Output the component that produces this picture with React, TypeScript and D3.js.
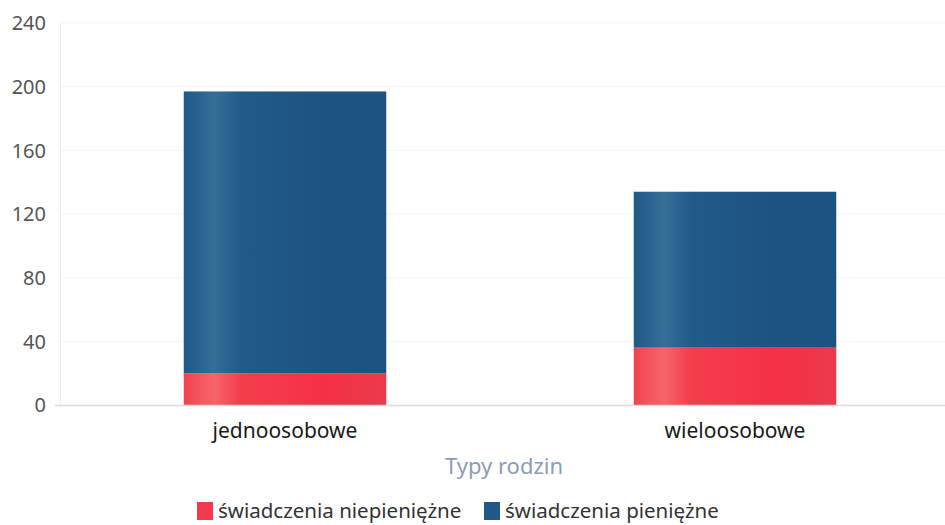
import * as d3 from 'd3';

const categories = ['jednoosobowe', 'wieloosobowe'];
const seriesNames = ['świadczenia niepieniężne', 'świadczenia pieniężne'];
const niepieniezne = [20, 36];
const pieniezne = [177, 98];
const yTicks = [0, 40, 80, 120, 160, 200, 240];

const colors = ['#f23a4c', '#1f5a86'];

const W = 945;
const H = 525;
const FONT = '"Noto Sans", "Open Sans", sans-serif';

export default function App() {
  const x = d3
    .scaleBand<string>()
    .domain(categories)
    .range([60, 960])
    .paddingInner(0.55)
    .paddingOuter(0.275);
  const y = d3.scaleLinear().domain([0, 240]).range([405, 23]);

  const table = categories.map((c, i) => ({
    cat: c,
    niepieniezne: niepieniezne[i],
    pieniezne: pieniezne[i],
  }));
  const stacked = d3.stack<any>().keys(['niepieniezne', 'pieniezne'])(table);

  return (
    <svg
      width={W}
      height={H}
      style={{ position: 'absolute', left: 0, top: 0, background: '#fff' }}
      fontFamily={FONT}
    >
      <defs>
        <linearGradient id="g0" x1="0" x2="1" y1="0" y2="0">
          <stop offset="0" stopColor="#f0444f" />
          <stop offset="0.1" stopColor="#f45a62" />
          <stop offset="0.15" stopColor="#f56568" />
          <stop offset="0.28" stopColor="#f33e4c" />
          <stop offset="0.7" stopColor="#f53046" />
          <stop offset="1" stopColor="#ea3a4b" />
        </linearGradient>
        <linearGradient id="g1" x1="0" x2="1" y1="0" y2="0">
          <stop offset="0" stopColor="#1f5a86" />
          <stop offset="0.1" stopColor="#2b6892" />
          <stop offset="0.15" stopColor="#356f98" />
          <stop offset="0.28" stopColor="#205c88" />
          <stop offset="0.7" stopColor="#1c5381" />
          <stop offset="1" stopColor="#1d5380" />
        </linearGradient>
      </defs>

      {yTicks.map((t) => (
        <g key={t}>
          {t > 0 && (
            <line x1={60} x2={945} y1={y(t)} y2={y(t)} stroke="#f5f5f5" strokeWidth={1} />
          )}
          <text
            x={46}
            y={y(t)}
            dy="0.36em"
            textAnchor="end"
            fontSize={20}
            fill="#555"
          >
            {t}
          </text>
        </g>
      ))}
      <line x1={60.5} x2={60.5} y1={y(240)} y2={405} stroke="#eeeeee" strokeWidth={1} />

      {stacked.map((s, si) =>
        s.map((d, i) => (
          <rect
            key={si + '-' + i}
            x={x(categories[i])}
            width={x.bandwidth()}
            y={y(d[1])}
            height={y(d[0]) - y(d[1])}
            fill={`url(#g${si})`}
          />
        ))
      )}

      <line x1={55} x2={945} y1={405.5} y2={405.5} stroke="#dcdcdc" strokeWidth={1.5} />

      {categories.map((c) => (
        <text
          key={c}
          x={(x(c) ?? 0) + x.bandwidth() / 2}
          y={430}
          dy="0.36em"
          textAnchor="middle"
          fontSize={21}
          fill="#1a1a1a"
        >
          {c}
        </text>
      ))}

      <text x={504} y={466} dy="0.36em" textAnchor="middle" fontSize={22} fill="#8c9cb8">
        Typy rodzin
      </text>

      {seriesNames.map((n, i) => {
        const lx = [197, 484][i];
        return (
          <g key={n}>
            <rect x={lx} y={502} width={16} height={18} fill={colors[i]} />
            <text x={lx + 21} y={511} dy="0.36em" fontSize={20.5} fill="#333">
              {n}
            </text>
          </g>
        );
      })}
    </svg>
  );
}
